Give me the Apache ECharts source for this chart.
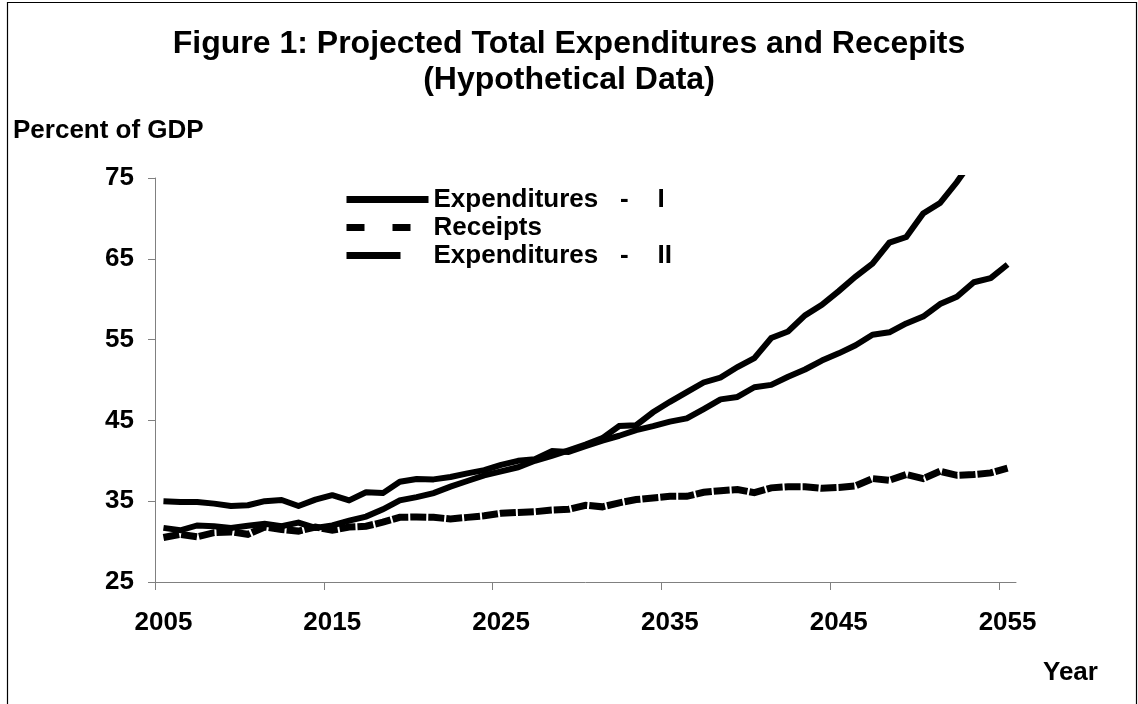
<!DOCTYPE html>
<html>
<head>
<meta charset="utf-8">
<script src="https://cdn.jsdelivr.net/npm/echarts@6/dist/echarts.min.js"></script>
<style>
html,body{margin:0;padding:0;background:#fff;}
#chart{width:1138px;height:704px;}
</style>
</head>
<body>
<div id="chart"></div>
<script>
var years = [2005,2006,2007,2008,2009,2010,2011,2012,2013,2014,
             2015,2016,2017,2018,2019,2020,2021,2022,2023,2024,
             2025,2026,2027,2028,2029,2030,2031,2032,2033,2034,
             2035,2036,2037,2038,2039,2040,2041,2042,2043,2044,
             2045,2046,2047,2048,2049,2050,2051,2052,2053,2054,2055];

var expI = [35.0, 34.9, 34.9, 34.7, 34.4, 34.5, 35.0, 35.15, 34.4, 35.2,
            35.75, 35.1, 36.1, 36.0, 37.4, 37.75, 37.7, 38.0, 38.45, 38.85,
            39.5, 40.0, 40.2, 41.2, 41.1, 41.8, 42.5, 43.1, 43.8, 44.3,
            44.85, 45.25, 46.4, 47.6, 47.9, 49.1, 49.4, 50.4, 51.3, 52.4,
            53.3, 54.3, 55.6, 55.9, 57.0, 57.85, 59.4, 60.3, 62.1, 62.6, 64.3];

var receipts = [30.5, 30.9, 30.6, 31.1, 31.2, 30.9, 31.8, 31.5, 31.3, 31.8,
                31.4, 31.8, 31.9, 32.4, 33.0, 33.05, 33.0, 32.8, 33.0, 33.2,
                33.5, 33.6, 33.7, 33.9, 34.0, 34.5, 34.3, 34.8, 35.2, 35.4,
                35.6, 35.6, 36.1, 36.3, 36.45, 36.05, 36.65, 36.8, 36.8, 36.6,
                36.7, 36.9, 37.8, 37.6, 38.3, 37.8, 38.7, 38.2, 38.3, 38.5, 39.1];

var expII = [31.7, 31.4, 32.0, 31.9, 31.7, 31.95, 32.2, 31.9, 32.35, 31.7,
             32.0, 32.6, 33.1, 34.0, 35.1, 35.5, 36.0, 36.8, 37.5, 38.2,
             38.7, 39.2, 40.0, 40.6, 41.3, 42.0, 42.8, 44.3, 44.4, 46.0,
             47.3, 48.5, 49.7, 50.3, 51.6, 52.7, 55.2, 56.0, 58.0, 59.3,
             61.0, 62.8, 64.4, 67.0, 67.7, 70.6, 71.9, 74.5, 77.5, 80.0, 83.0];

var xTickLabels = [2005, 2015, 2025, 2035, 2045, 2055];
var yTicks = {min: 25, max: 75, step: 10};

var seriesNames = ['Expenditures   -    I', 'Receipts', 'Expenditures   -    II'];

var FONT = "'Liberation Sans', Arial, sans-serif";

function pairs(vals) {
  return years.map(function (y, i) { return [y, vals[i]]; });
}

var chart = echarts.init(document.getElementById('chart'), null, {renderer: 'canvas'});

var noSymbol = {color: 'transparent', borderWidth: 0, opacity: 0};

var option = {
  backgroundColor: '#fff',
  animation: false,
  title: {
    text: 'Figure 1: Projected Total Expenditures and Recepits\n(Hypothetical Data)',
    left: 'center',
    top: 26,
    padding: 0,
    textStyle: {fontFamily: FONT, fontSize: 32, fontWeight: 'bold', color: '#000', lineHeight: 36}
  },
  legend: {
    data: [
      {name: seriesNames[0], lineStyle: {width: 7, type: 'solid', color: '#000'}, itemStyle: noSymbol},
      {name: seriesNames[1], lineStyle: {width: 7, type: [18, 28], color: '#000'}, itemStyle: noSymbol},
      {name: seriesNames[2], lineStyle: {width: 7, type: [54, 40], color: '#000'}, itemStyle: noSymbol}
    ],
    orient: 'vertical',
    left: 343,
    top: 186,
    padding: 0,
    itemGap: 1,
    itemWidth: 82,
    itemHeight: 26,
    selectedMode: false,
    textStyle: {fontFamily: FONT, fontSize: 26, fontWeight: 'bold', color: '#000', lineHeight: 27}
  },
  grid: {left: 155, top: 178, width: 861, height: 404, containLabel: false},
  xAxis: {
    type: 'value',
    min: years[0] - 0.5,
    max: years[years.length - 1] + 0.5,
    axisLine: {show: true, onZero: false, lineStyle: {color: '#808080', width: 1}},
    axisTick: {show: true, length: 8, inside: false, lineStyle: {color: '#808080'},
               customValues: xTickLabels.map(function (v) { return v - 0.5; })},
    axisLabel: {margin: 28, fontFamily: FONT, fontSize: 26, fontWeight: 'bold', color: '#000',
                customValues: xTickLabels, formatter: function (v) { return String(v); }},
    splitLine: {show: false}
  },
  yAxis: {
    type: 'value',
    min: yTicks.min,
    max: yTicks.max,
    interval: yTicks.step,
    axisLine: {show: true, lineStyle: {color: '#808080', width: 1}},
    axisTick: {show: true, length: 7, inside: false, lineStyle: {color: '#808080'}},
    axisLabel: {margin: 21, fontFamily: FONT, fontSize: 26, fontWeight: 'bold', color: '#000'},
    splitLine: {show: false}
  },
  series: [
    {
      name: seriesNames[0], type: 'line', data: pairs(expI), showSymbol: false, symbol: 'none',
      lineStyle: {color: '#000', width: 6, type: 'solid', join: 'round'},
      itemStyle: {color: '#000'}, z: 3, clip: true
    },
    {
      name: seriesNames[1], type: 'line', data: pairs(receipts), showSymbol: false, symbol: 'none',
      lineStyle: {color: '#000', width: 7, type: [16, 2], join: 'miter', cap: 'butt'},
      itemStyle: {color: '#000'}, z: 2, clip: true
    },
    {
      name: seriesNames[2], type: 'line', data: pairs(expII), showSymbol: false, symbol: 'none',
      lineStyle: {color: '#000', width: 6, type: 'solid', join: 'miter'},
      itemStyle: {color: '#000'}, z: 4, clip: true
    }
  ],
  graphic: [
    {type: 'rect', shape: {x: 7.5, y: 2.5, width: 1129, height: 760}, style: {fill: 'none', stroke: '#000', lineWidth: 1.2}, silent: true, z: -1},
    {type: 'text', left: 13, top: 118, style: {text: 'Percent of GDP', font: "bold 26px 'Liberation Sans', Arial, sans-serif", fill: '#000'}},
    {type: 'text', left: 1043, top: 660, style: {text: 'Year', font: "bold 26px 'Liberation Sans', Arial, sans-serif", fill: '#000'}}
  ]
};

chart.setOption(option);
</script>
</body>
</html>
